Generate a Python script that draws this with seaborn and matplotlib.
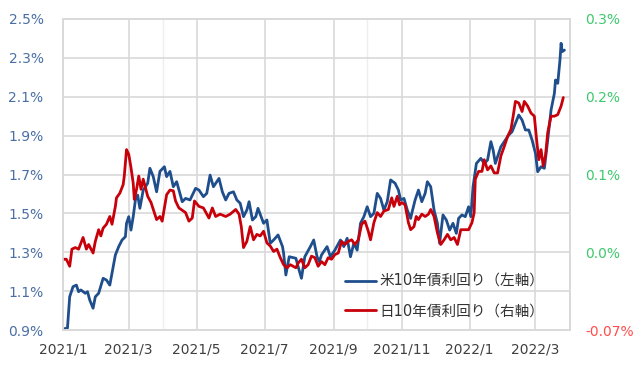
import numpy as np
import pandas as pd
import matplotlib
matplotlib.use('Agg')
import matplotlib.pyplot as plt
import matplotlib.dates as mdates
from matplotlib.ticker import FuncFormatter
import seaborn as sns

# days since 2021-01-01, yield in %
us_day = [0, 4, 6, 9, 12, 14, 16, 20, 22, 24,
          27, 29, 32, 36, 39, 42, 44, 47, 50, 53,
          56, 57, 59, 61, 63, 65, 67, 69, 72, 76,
          78, 81, 84, 87, 91, 93, 96, 99, 102, 107,
          110, 114, 119, 122, 126, 129, 132, 135, 140, 143,
          146, 149, 153, 156, 159, 162, 165, 167, 170, 173,
          175, 180, 183, 186, 189, 193, 197, 198, 200, 203,
          209, 211, 214, 217, 222, 225, 228, 230, 232, 237,
          240, 244, 249, 252, 255, 258, 261, 264, 267, 270,
          273, 276, 279, 282, 285, 288, 291, 294, 298, 301,
          303, 306, 309, 312, 313, 316, 319, 322, 325, 327,
          330, 333, 336, 338, 341, 344, 347, 350, 353, 355,
          358, 361, 364, 366, 368, 371, 375, 378, 381, 384,
          386, 388, 393, 397, 400, 403, 406, 409, 412, 415,
          418, 421, 424, 426, 429, 432, 435, 438, 441, 442,
          444, 446, 447, 448, 450]
us_yield = [0.905, 0.91, 1.071, 1.123, 1.131, 1.097, 1.106, 1.089, 1.097, 1.054,
            1.012, 1.071, 1.089, 1.166, 1.157, 1.131, 1.192, 1.286, 1.329, 1.363,
            1.380, 1.449, 1.483, 1.414, 1.483, 1.569, 1.594, 1.526, 1.620, 1.655,
            1.732, 1.689, 1.611, 1.716, 1.740, 1.689, 1.716, 1.637, 1.663, 1.560,
            1.577, 1.569, 1.629, 1.620, 1.586, 1.603, 1.697, 1.637, 1.680, 1.611,
            1.569, 1.603, 1.611, 1.569, 1.552, 1.483, 1.517, 1.560, 1.466, 1.483,
            1.526, 1.449, 1.466, 1.346, 1.363, 1.389, 1.329, 1.294, 1.183, 1.277,
            1.269, 1.226, 1.166, 1.277, 1.329, 1.363, 1.277, 1.251, 1.286, 1.329,
            1.277, 1.311, 1.363, 1.329, 1.372, 1.277, 1.346, 1.311, 1.449, 1.483,
            1.534, 1.483, 1.500, 1.603, 1.577, 1.517, 1.560, 1.672, 1.655, 1.620,
            1.569, 1.577, 1.517, 1.474, 1.500, 1.569, 1.620, 1.560, 1.603, 1.663,
            1.637, 1.517, 1.449, 1.346, 1.492, 1.466, 1.414, 1.449, 1.397, 1.474,
            1.492, 1.483, 1.534, 1.483, 1.637, 1.757, 1.783, 1.757, 1.774, 1.869,
            1.826, 1.757, 1.843, 1.877, 1.903, 1.920, 1.963, 2.006, 1.980, 1.929,
            1.929, 1.877, 1.809, 1.714, 1.740, 1.732, 1.877, 2.032, 2.118, 2.186,
            2.169, 2.289, 2.375, 2.332, 2.340]

jp_day = [0, 3, 6, 8, 11, 14, 18, 21, 23, 27,
          29, 32, 34, 36, 39, 42, 44, 47, 48, 51,
          54, 55, 57, 59, 61, 63, 64, 66, 68, 70,
          72, 76, 79, 82, 84, 87, 89, 93, 96, 99,
          101, 104, 110, 113, 116, 118, 122, 126, 131, 134,
          137, 141, 146, 150, 155, 158, 160, 162, 165, 168,
          171, 174, 177, 180, 183, 186, 189, 192, 195, 198,
          201, 204, 209, 211, 214, 217, 220, 223, 226, 229,
          232, 235, 238, 241, 244, 247, 250, 253, 256, 259,
          262, 265, 268, 271, 274, 276, 279, 282, 285, 288,
          292, 295, 297, 300, 302, 304, 307, 310, 312, 315,
          317, 319, 322, 325, 328, 330, 333, 336, 339, 342,
          345, 348, 351, 354, 357, 360, 364, 367, 369, 370,
          373, 376, 378, 381, 384, 387, 390, 393, 396, 399,
          402, 404, 406, 409, 412, 414, 417, 420, 423, 425,
          427, 429, 431, 433, 435, 438, 441, 444, 447, 449]
jp_yield = [-0.009, -0.009, -0.018, 0.004, 0.006, 0.004, 0.019, 0.004, 0.010, -0.001,
            0.014, 0.029, 0.021, 0.031, 0.036, 0.046, 0.036, 0.059, 0.070, 0.076,
            0.087, 0.098, 0.132, 0.126, 0.109, 0.089, 0.068, 0.081, 0.098, 0.081,
            0.094, 0.072, 0.064, 0.051, 0.042, 0.046, 0.040, 0.074, 0.080, 0.079,
            0.066, 0.057, 0.051, 0.040, 0.044, 0.066, 0.059, 0.057, 0.044, 0.057,
            0.046, 0.049, 0.046, 0.049, 0.055, 0.049, 0.033, 0.006, 0.014, 0.033,
            0.016, 0.023, 0.021, 0.027, 0.012, 0.008, 0.001, 0.004, -0.007, -0.016,
            -0.020, -0.016, -0.020, -0.014, -0.009, -0.020, -0.016, -0.005, -0.007, -0.018,
            -0.012, -0.016, -0.007, -0.009, -0.003, -0.001, 0.014, 0.010, 0.014, 0.016,
            0.010, 0.016, 0.036, 0.040, 0.027, 0.016, 0.038, 0.051, 0.046, 0.053,
            0.055, 0.070, 0.059, 0.072, 0.061, 0.064, 0.061, 0.038, 0.029, 0.033,
            0.046, 0.042, 0.049, 0.046, 0.049, 0.055, 0.046, 0.025, 0.010, 0.016,
            0.023, 0.016, 0.019, 0.010, 0.029, 0.029, 0.029, 0.038, 0.051, 0.094,
            0.104, 0.104, 0.119, 0.106, 0.111, 0.102, 0.102, 0.124, 0.136, 0.149,
            0.158, 0.175, 0.194, 0.192, 0.181, 0.194, 0.188, 0.179, 0.175, 0.145,
            0.119, 0.132, 0.111, 0.124, 0.154, 0.175, 0.175, 0.177, 0.188, 0.199]

left_ticks = [0.9, 1.1, 1.3, 1.5, 1.7, 1.9, 2.1, 2.3, 2.5]
right_ticks = [-0.1, 0.0, 0.1, 0.2, 0.3]
right_labels = ['-0.07%', '0.0%', '0.1%', '0.2%', '0.3%']
us_label = '米10年債利回り（左軸）'
jp_label = '日10年債利回り（右軸）'

BLUE = '#1F4E8C'
RED = '#C8000A'
GRID = '#D9D9D9'

sns.set_theme(style='white')
plt.rcParams['font.family'] = ['DejaVu Sans', 'Noto Sans CJK JP']

start = pd.Timestamp('2021-01-01')
us = pd.DataFrame({'date': start + pd.to_timedelta(us_day, unit='D'), 'yield': us_yield})
jp = pd.DataFrame({'date': start + pd.to_timedelta(jp_day, unit='D'), 'yield': jp_yield})

fig, ax = plt.subplots(figsize=(6.4, 3.65), dpi=100)
fig.subplots_adjust(left=63/640, right=570/640, bottom=1-330/365, top=1-19/365)
ax2 = ax.twinx()

sns.lineplot(data=us, x='date', y='yield', ax=ax, color=BLUE, lw=2, label=us_label)
sns.lineplot(data=jp, x='date', y='yield', ax=ax2, color=RED, lw=2, label=jp_label)
ax.get_legend().remove()
ax2.get_legend().remove()

ax.set_xlim(start, pd.Timestamp('2022-04-01'))
ax.set_ylim(0.9, 2.5)
ax2.set_ylim(-0.1, 0.3)
ax.set_xlabel('')
ax.set_ylabel('')
ax2.set_ylabel('')

ax.set_yticks(left_ticks)
ax.yaxis.set_major_formatter(FuncFormatter(lambda v, p: f'{v:.1f}%'))
ax2.set_yticks(right_ticks)
ax2.set_yticklabels(right_labels)
for t, lab in zip(ax2.get_yticklabels(), right_labels):
    t.set_color('#FF4D4D' if lab.startswith('-') else '#3EC86E')

ax.xaxis.set_major_locator(mdates.MonthLocator(bymonth=[1, 3, 5, 7, 9, 11]))
ax.xaxis.set_minor_locator(mdates.MonthLocator(bymonth=[4, 10]))
ax.xaxis.set_major_formatter(FuncFormatter(
    lambda v, p: f'{mdates.num2date(v).year}/{mdates.num2date(v).month}'))

ax.tick_params(axis='x', length=0, pad=9, labelsize=10, colors='#404040', which='both')
ax.tick_params(axis='y', length=0, pad=14, labelsize=10, labelcolor='#4A6FA5')
ax2.tick_params(axis='y', length=0, pad=11, labelsize=10)

ax.grid(True, which='major', color=GRID, lw=1.2)
ax.grid(True, which='minor', axis='x', color='#EEEEEE', lw=1.0)
for a in (ax, ax2):
    for s in a.spines.values():
        s.set_visible(True)
        s.set_color(GRID)
        s.set_linewidth(1.2)

h1, l1 = ax.get_legend_handles_labels()
h2, l2 = ax2.get_legend_handles_labels()
ax2.legend(h1 + h2, l1 + l2, loc='center left',
           bbox_to_anchor=((345 - 63) / 507, (330 - 296) / 311),
           frameon=False, fontsize=10.5, handlelength=2.1, handletextpad=0.25,
           labelspacing=1.0, borderpad=0, borderaxespad=0, labelcolor='#333333')

fig.savefig('out.png', dpi=100)
